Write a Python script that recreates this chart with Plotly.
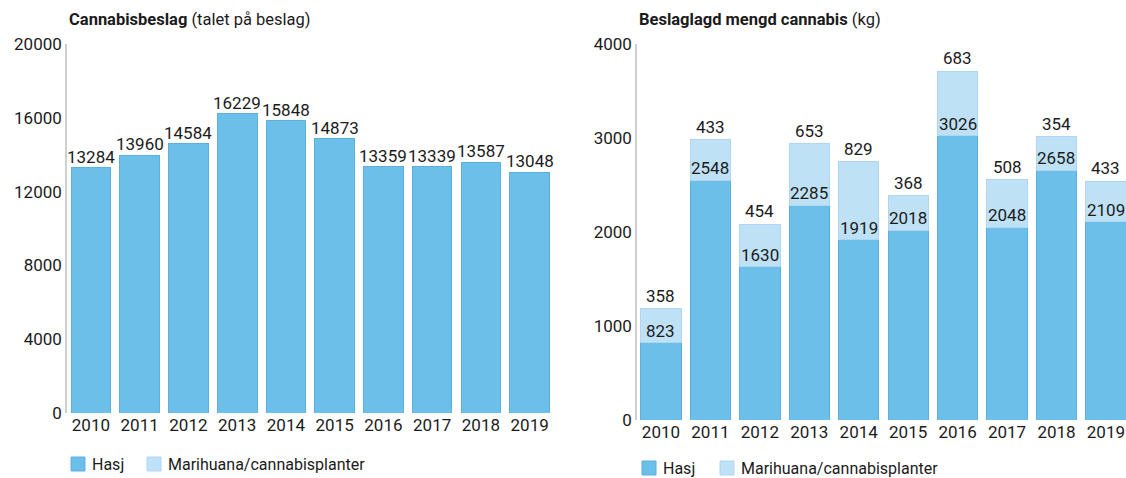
import plotly.graph_objects as go

years = ["2010", "2011", "2012", "2013", "2014", "2015", "2016", "2017", "2018", "2019"]
seizures = [13284, 13960, 14584, 16229, 15848, 14873, 13359, 13339, 13587, 13048]
hasj_kg = [823, 2548, 1630, 2285, 1919, 2018, 3026, 2048, 2658, 2109]
marihuana_kg = [358, 433, 454, 653, 829, 368, 683, 508, 354, 433]
legend_names = ["Hasj", "Marihuana/cannabisplanter"]

DARK = "#6cbfe9"
DARK_LINE = "#5cb0de"
LIGHT = "#bfe1f6"
LIGHT_LINE = "#aed6f0"
TEXT = "#1b1b1b"
FONT = "Roboto"
W, H = 1126, 478


def px(x):
    return x / W


def py(y):
    return 1 - y / H


fig = go.Figure()

# left panel: number of seizures
fig.add_trace(go.Bar(x=years, y=seizures, name=legend_names[0], xaxis="x", yaxis="y",
                     marker=dict(color=DARK, line=dict(color=DARK_LINE, width=1)),
                     hoverinfo="skip"))

# right panel: seized amount, stacked
fig.add_trace(go.Bar(x=years, y=hasj_kg, name=legend_names[0], xaxis="x2", yaxis="y2",
                     marker=dict(color=DARK, line=dict(color=DARK_LINE, width=1)),
                     hoverinfo="skip"))
fig.add_trace(go.Bar(x=years, y=marihuana_kg, name=legend_names[1], xaxis="x2", yaxis="y2",
                     marker=dict(color=LIGHT, line=dict(color=LIGHT_LINE, width=1)),
                     hoverinfo="skip"))

label_font = dict(size=17, color=TEXT, family=FONT)
annotations = []
# numeric category index so "2010" is not read as a coordinate
for i, v in enumerate(seizures):
    annotations.append(dict(x=i, y=v, xref="x", yref="y", text=str(v),
                            showarrow=False, yanchor="bottom", yshift=-1,
                            font=label_font))
for i, (h, m) in enumerate(zip(hasj_kg, marihuana_kg)):
    annotations.append(dict(x=i, y=h, xref="x2", yref="y2", text=str(h),
                            showarrow=False, yanchor="bottom", yshift=0,
                            font=label_font))
    annotations.append(dict(x=i, y=h + m, xref="x2", yref="y2", text=str(m),
                            showarrow=False, yanchor="bottom", yshift=1,
                            font=label_font))

title_font = dict(size=16.5, color=TEXT, family=FONT)
annotations.append(dict(x=px(67), y=py(19), xref="paper", yref="paper",
                        xanchor="left", yanchor="middle", showarrow=False,
                        text="<b>Cannabisbeslag</b> (talet på beslag)", font=title_font))
annotations.append(dict(x=px(637), y=py(19), xref="paper", yref="paper",
                        xanchor="left", yanchor="middle", showarrow=False,
                        text="<b>Beslaglagd mengd cannabis</b> (kg)", font=title_font))

# hand-placed legends under each panel
shapes = []
legend_font = dict(size=16, color=TEXT, family=FONT)
legend_rows = [
    (464, [(71, DARK, DARK_LINE), (147, LIGHT, LIGHT_LINE)]),
    (468, [(642, DARK, DARK_LINE), (720, LIGHT, LIGHT_LINE)]),
]
for yc, items in legend_rows:
    for name, (x0, fill, line) in zip(legend_names, items):
        shapes.append(dict(type="rect", xref="paper", yref="paper",
                           x0=px(x0), x1=px(x0 + 14), y0=py(yc - 7), y1=py(yc + 7),
                           fillcolor=fill, line=dict(color=line, width=1)))
        annotations.append(dict(x=px(x0 + 19), y=py(yc), xref="paper", yref="paper",
                                xanchor="left", yanchor="middle", showarrow=False,
                                text=name, font=legend_font))

axis_font = dict(size=17, color=TEXT, family=FONT)

fig.update_layout(
    width=W, height=H,
    margin=dict(l=0, r=0, t=0, b=0, autoexpand=False),
    paper_bgcolor="white", plot_bgcolor="white",
    barmode="stack", bargap=0.185,
    font=dict(family=FONT, color=TEXT),
    showlegend=False,
    annotations=annotations,
    shapes=shapes,
    xaxis=dict(domain=[px(67), px(554)], anchor="y", type="category",
               range=[-0.49, 9.5], showline=False, showgrid=False, ticks="",
               tickfont=axis_font, fixedrange=True),
    yaxis=dict(domain=[py(413), py(44)], anchor="x", range=[0, 20000],
               tickvals=[0, 4000, 8000, 12000, 16000, 20000],
               ticktext=["0", "4000", "8000", "12000", "16000", "20000"],
               showline=True, linecolor="#d0d0d0", linewidth=1.5,
               showgrid=False, zeroline=False, ticks="", tickfont=axis_font,
               fixedrange=True),
    xaxis2=dict(domain=[px(637), 1.0], anchor="y2", type="category",
                range=[-0.485, 9.406], showline=False, showgrid=False, ticks="",
                tickfont=axis_font, fixedrange=True),
    yaxis2=dict(domain=[py(420), py(44)], anchor="x2", range=[0, 4000],
                tickvals=[0, 1000, 2000, 3000, 4000],
                ticktext=["0", "1000", "2000", "3000", "4000"],
                showline=True, linecolor="#d0d0d0", linewidth=1.5,
                showgrid=False, zeroline=False, ticks="", tickfont=axis_font,
                fixedrange=True),
)

# drop the default 8px body margin so the figure fills the window exactly
fig.write_html("out.html",
               config={"displayModeBar": False},
               post_script="document.body.style.margin='0';"
                           "document.body.style.overflow='hidden';")
